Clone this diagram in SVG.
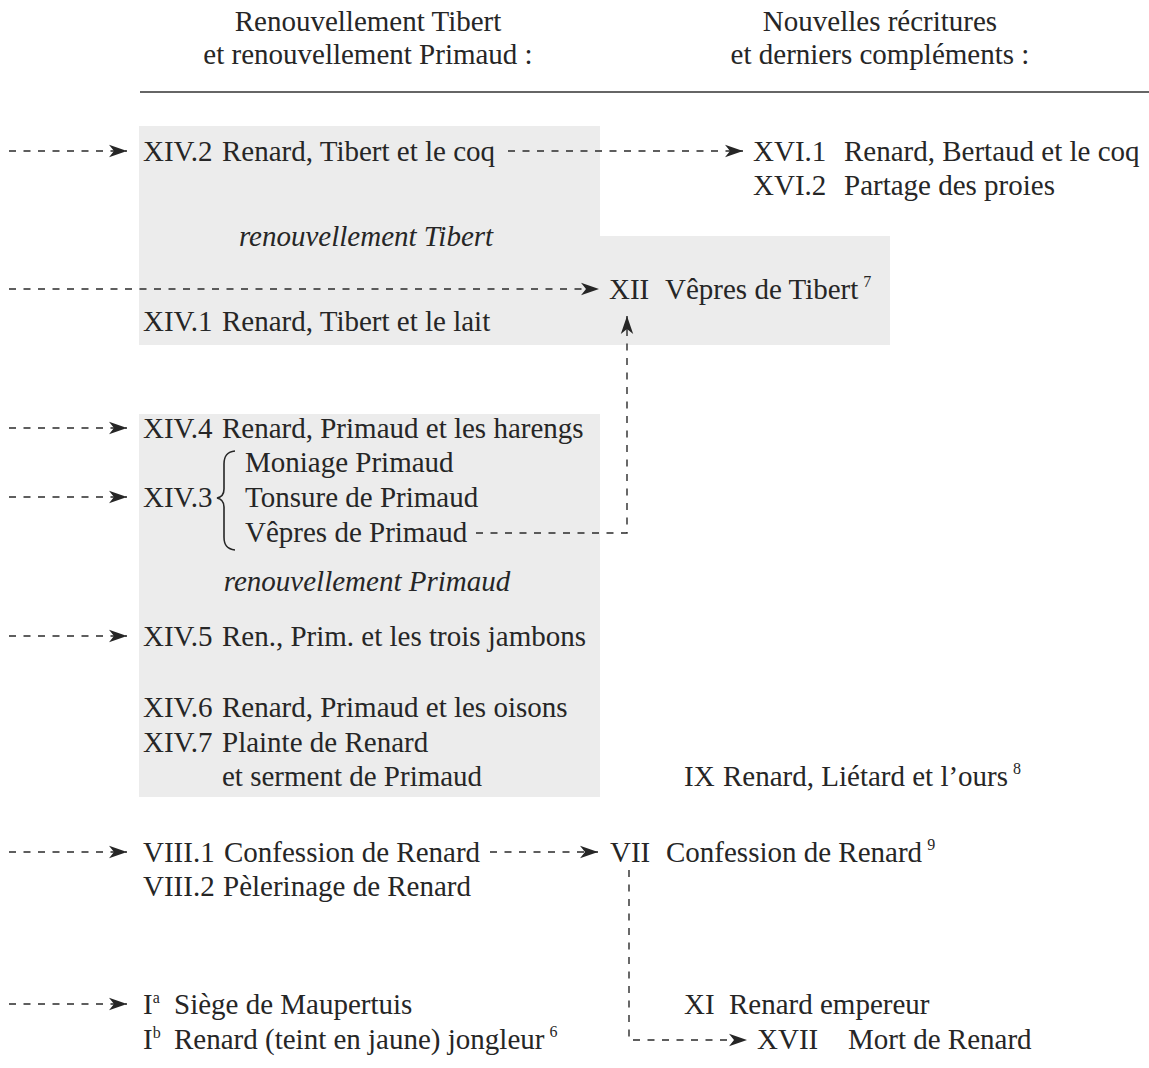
<svg xmlns="http://www.w3.org/2000/svg" width="1149" height="1068" viewBox="0 0 1149 1068">
<style>
text{font-family:"Liberation Serif","Times New Roman",serif;font-size:29px;fill:#262626}
.hd{text-anchor:middle}
.it{font-style:italic;text-anchor:middle}
.sup{font-size:16px}
.c{fill:none;stroke:#2a2a2a;stroke-width:1.4;stroke-dasharray:7 7.5}
.bg{fill:#ececec}
</style>
<defs>
<marker id="ah" markerUnits="userSpaceOnUse" markerWidth="20" markerHeight="14" refX="18" refY="7" orient="auto">
<path d="M0,0.8 L18,7 L0,13.2 L5,7 Z" fill="#262626"/>
</marker>
</defs>
<rect width="1149" height="1068" fill="#ffffff"/>
<g id="backgrounds">
<rect class="bg" x="139" y="126" width="461" height="219"/>
<rect class="bg" x="600" y="236" width="290" height="109"/>
<rect class="bg" x="139" y="414" width="461" height="383"/>
</g>
<g id="header">
<text class="hd" x="368" y="31">Renouvellement Tibert</text>
<text class="hd" x="368" y="64">et renouvellement Primaud :</text>
<text class="hd" x="880" y="31">Nouvelles récritures</text>
<text class="hd" x="880" y="64">et derniers compléments :</text>
<line x1="140" y1="92" x2="1149" y2="92" stroke="#333" stroke-width="1.6"/>
</g>
<g id="connectors">
<path class="c" d="M9,151 H127" marker-end="url(#ah)"/>
<path class="c" d="M508,151 H743" marker-end="url(#ah)"/>
<path class="c" d="M9,289 H599" marker-end="url(#ah)"/>
<path class="c" d="M9,428 H127" marker-end="url(#ah)"/>
<path class="c" d="M9,497 H127" marker-end="url(#ah)"/>
<path class="c" d="M476,533 H627 V316" marker-end="url(#ah)"/>
<path class="c" d="M9,636 H127" marker-end="url(#ah)"/>
<path class="c" d="M9,852 H127" marker-end="url(#ah)"/>
<path class="c" d="M490,852 H598" marker-end="url(#ah)"/>
<path class="c" d="M9,1004 H127" marker-end="url(#ah)"/>
<path class="c" d="M629,870 V1040 H747" marker-end="url(#ah)"/>
</g>
<g id="n-xiv2"><text x="143" y="161">XIV.2<tspan x="222">Renard, Tibert et le coq</tspan></text></g>
<g id="n-xvi"><text x="753" y="161">XVI.1<tspan x="844">Renard, Bertaud et le coq</tspan></text>
<text x="753" y="195">XVI.2<tspan x="844">Partage des proies</tspan></text></g>
<g id="n-tibert-label"><text class="it" x="366" y="246">renouvellement Tibert</text></g>
<g id="n-xii"><text x="609" y="299">XII<tspan x="665">Vêpres de Tibert</tspan><tspan class="sup" dx="5" dy="-12">7</tspan></text></g>
<g id="n-xiv1"><text x="143" y="331">XIV.1<tspan x="222">Renard, Tibert et le lait</tspan></text></g>
<g id="n-xiv4"><text x="143" y="438">XIV.4<tspan x="222">Renard, Primaud et les harengs</tspan></text></g>
<g id="n-xiv3">
<text x="143" y="507">XIV.3</text>
<path d="M235,451 C226,452 224,457 224,464 L224,489 C224,494 222,497 217,498 C222,499 224,502 224,507 L224,537 C224,544 226,549 235,550" fill="none" stroke="#262626" stroke-width="1.6"/>
<text x="245" y="472">Moniage Primaud</text>
<text x="245" y="507">Tonsure de Primaud</text>
<text x="245" y="542">Vêpres de Primaud</text>
</g>
<g id="n-primaud-label"><text class="it" x="367" y="591">renouvellement Primaud</text></g>
<g id="n-xiv5"><text x="143" y="646">XIV.5<tspan x="222">Ren., Prim. et les trois jambons</tspan></text></g>
<g id="n-xiv6"><text x="143" y="717">XIV.6<tspan x="222">Renard, Primaud et les oisons</tspan></text></g>
<g id="n-xiv7"><text x="143" y="752">XIV.7<tspan x="222">Plainte de Renard</tspan></text>
<text x="222" y="786">et serment de Primaud</text></g>
<g id="n-ix"><text x="684" y="786">IX<tspan x="723">Renard, Liétard et l’ours</tspan><tspan class="sup" dx="5" dy="-12">8</tspan></text></g>
<g id="n-viii"><text x="143" y="862">VIII.1<tspan x="224">Confession de Renard</tspan></text>
<text x="143" y="896">VIII.2<tspan x="223">Pèlerinage de Renard</tspan></text></g>
<g id="n-vii"><text x="610" y="862">VII<tspan x="666">Confession de Renard</tspan><tspan class="sup" dx="5" dy="-12">9</tspan></text></g>
<g id="n-i"><text x="143" y="1014">I<tspan class="sup" dy="-11">a</tspan><tspan x="174" dy="11">Siège de Maupertuis</tspan></text>
<text x="143" y="1049">I<tspan class="sup" dy="-11">b</tspan><tspan x="174" dy="11">Renard (teint en jaune) jongleur</tspan><tspan class="sup" dx="5" dy="-12">6</tspan></text></g>
<g id="n-xi"><text x="684" y="1014">XI<tspan x="729">Renard empereur</tspan></text></g>
<g id="n-xvii"><text x="757" y="1049">XVII<tspan x="848">Mort de Renard</tspan></text></g>
</svg>
